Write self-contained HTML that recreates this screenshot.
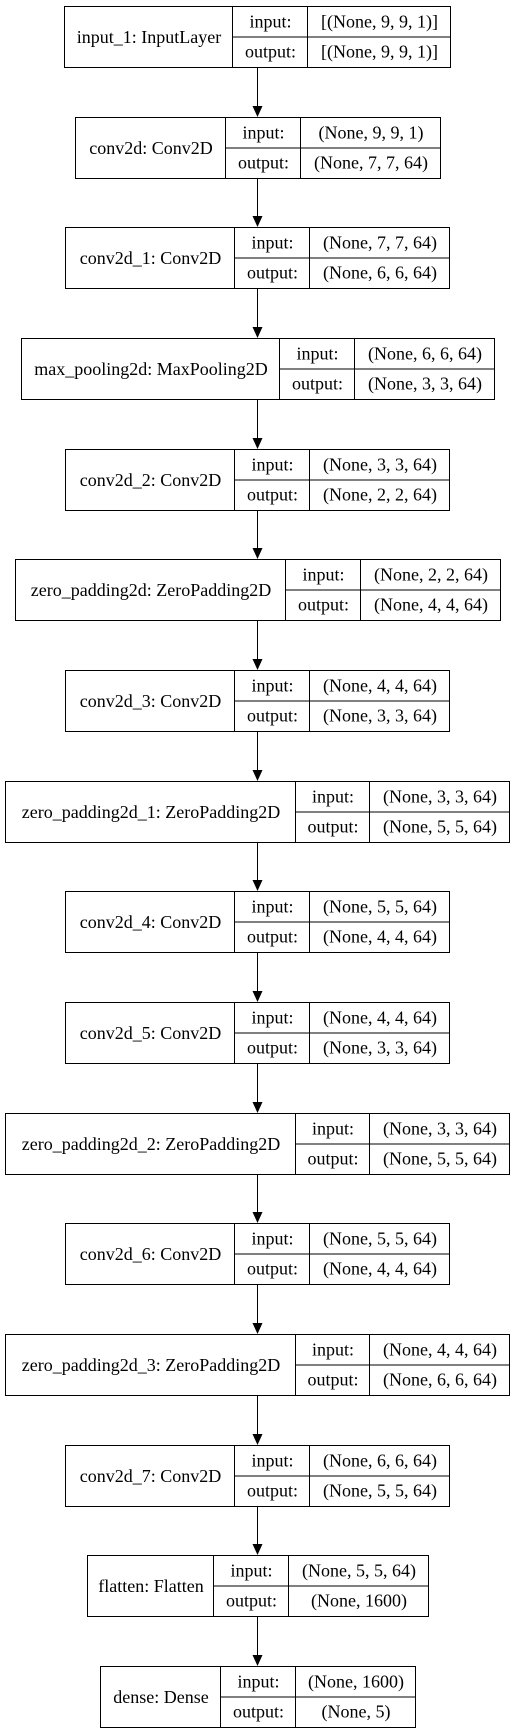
<!DOCTYPE html>
<html><head><style>body{margin:0;background:#fff}svg{display:block}text{font-family:"Liberation Serif",serif;font-size:18px;fill:#000}</style></head>
<body>
<svg id="s" width="515" height="1733" xmlns="http://www.w3.org/2000/svg">
</svg>
<script>
const nodes=[
["input_1: InputLayer",64,232,307,450,"[(None, 9, 9, 1)]","[(None, 9, 9, 1)]"],
["conv2d: Conv2D",75,225,300,440,"(None, 9, 9, 1)","(None, 7, 7, 64)"],
["conv2d_1: Conv2D",65,234,309,449,"(None, 7, 7, 64)","(None, 6, 6, 64)"],
["max_pooling2d: MaxPooling2D",21,279,354,494,"(None, 6, 6, 64)","(None, 3, 3, 64)"],
["conv2d_2: Conv2D",65,234,309,449,"(None, 3, 3, 64)","(None, 2, 2, 64)"],
["zero_padding2d: ZeroPadding2D",15,285,360,500,"(None, 2, 2, 64)","(None, 4, 4, 64)"],
["conv2d_3: Conv2D",65,234,309,449,"(None, 4, 4, 64)","(None, 3, 3, 64)"],
["zero_padding2d_1: ZeroPadding2D",5,295,369,509,"(None, 3, 3, 64)","(None, 5, 5, 64)"],
["conv2d_4: Conv2D",65,234,309,449,"(None, 5, 5, 64)","(None, 4, 4, 64)"],
["conv2d_5: Conv2D",65,234,309,449,"(None, 4, 4, 64)","(None, 3, 3, 64)"],
["zero_padding2d_2: ZeroPadding2D",5,295,369,509,"(None, 3, 3, 64)","(None, 5, 5, 64)"],
["conv2d_6: Conv2D",65,234,309,449,"(None, 5, 5, 64)","(None, 4, 4, 64)"],
["zero_padding2d_3: ZeroPadding2D",5,295,369,509,"(None, 4, 4, 64)","(None, 6, 6, 64)"],
["conv2d_7: Conv2D",65,234,309,449,"(None, 6, 6, 64)","(None, 5, 5, 64)"],
["flatten: Flatten",87,213,288,428,"(None, 5, 5, 64)","(None, 1600)"],
["dense: Dense",100,220,295,415,"(None, 1600)","(None, 5)"]];
let h='';
nodes.forEach((n,i)=>{
 const t=Math.round(6+110.67*i)+0.5,b=t+61,m=t+30.5;
 const [nm,x0,x1,x2,x3,a,o]=n;
 h+=`<rect x="${x0+.5}" y="${t}" width="${x3-x0}" height="61" fill="none" stroke="#000"/>`;
 h+=`<line x1="${x1+.5}" y1="${t}" x2="${x1+.5}" y2="${b}" stroke="#000"/>`;
 h+=`<line x1="${x2+.5}" y1="${t}" x2="${x2+.5}" y2="${b}" stroke="#000"/>`;
 h+=`<line x1="${x1+.5}" y1="${m}" x2="${x3+.5}" y2="${m}" stroke="#000"/>`;
 h+=`<text x="${(x0+x1)/2+1}" y="${m+6}" text-anchor="middle">${nm}</text>`;
 h+=`<text x="${(x1+x2)/2+1}" y="${t+21}" text-anchor="middle">input:</text>`;
 h+=`<text x="${(x1+x2)/2+1}" y="${t+51}" text-anchor="middle">output:</text>`;
 h+=`<text x="${(x2+x3)/2+1}" y="${t+21}" text-anchor="middle">${a}</text>`;
 h+=`<text x="${(x2+x3)/2+1}" y="${t+51}" text-anchor="middle">${o}</text>`;
 if(i<nodes.length-1){const nt=Math.round(6+110.67*(i+1));
  h+=`<line x1="257.5" y1="${b}" x2="257.5" y2="${nt-10}" stroke="#000"/>`;
  h+=`<polygon points="252.5,${nt-11} 262.5,${nt-11} 257.5,${nt}" fill="#000"/>`;}
});
document.getElementById('s').innerHTML+=h;
</script>
</body></html>
